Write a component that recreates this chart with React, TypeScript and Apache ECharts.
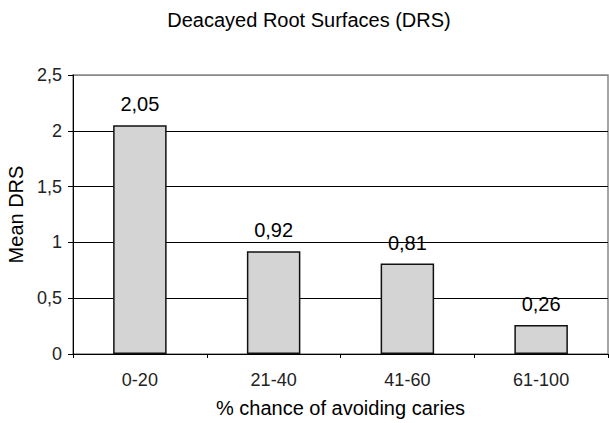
import React, { useEffect, useRef } from "react";
import * as echarts from "echarts";

const categories = ["0-20", "21-40", "41-60", "61-100"];
const meanDRS = [2.05, 0.92, 0.81, 0.26];
const yTicks = [0, 0.5, 1, 1.5, 2, 2.5];

const comma = (v: number, d?: number) =>
  (d !== undefined ? v.toFixed(d) : String(v)).replace(".", ",");

export default function App() {
  const ref = useRef<HTMLDivElement>(null);
  useEffect(() => {
    if (!ref.current) return;
    const chart = echarts.init(ref.current, undefined, { renderer: "svg" });
    const font = "'Liberation Sans', Arial, sans-serif";
    chart.setOption({
      animation: false,
      backgroundColor: "#fff",
      textStyle: { fontFamily: font },
      title: {
        text: "Deacayed Root Surfaces (DRS)",
        left: 304,
        textAlign: "center",
        top: 5,
        textStyle: { fontFamily: font, fontSize: 20, fontWeight: "normal", color: "#000" },
      },
      grid: {
        left: 73,
        right: 1,
        top: 75,
        bottom: 69,
        show: true,
        borderColor: "#888",
        borderWidth: 1.5,
        backgroundColor: "#fff",
        containLabel: false,
        outerBoundsMode: "none",
      },
      xAxis: {
        type: "category",
        data: categories,
        name: "% chance of avoiding caries",
        nameLocation: "middle",
        nameGap: 44,
        nameTextStyle: { fontFamily: font, fontSize: 20, color: "#000", verticalAlign: "top" },
        axisLine: { lineStyle: { color: "#000", width: 1 } },
        axisTick: { show: true, length: 4, lineStyle: { color: "#000" } },
        axisLabel: { fontFamily: font, fontSize: 18, color: "#222", margin: 17 },
      },
      yAxis: {
        type: "value",
        min: 0,
        max: 2.5,
        interval: 0.5,
        name: "Mean DRS",
        nameLocation: "middle",
        nameGap: 47,
        nameRotate: 90,
        nameTextStyle: { fontFamily: font, fontSize: 20, color: "#000" },
        axisLine: { show: true, lineStyle: { color: "#000", width: 1 } },
        axisTick: { show: true, length: 5, lineStyle: { color: "#000" } },
        axisLabel: {
          fontFamily: font,
          fontSize: 18,
          color: "#222",
          margin: 11,
          formatter: (v: number) => comma(v),
        },
        splitLine: {
          show: true,
          lineStyle: {
            color: yTicks.map((t, i) => (i === yTicks.length - 1 ? "#888" : "#000")),
            width: 1,
          },
        },
      },
      series: [
        {
          type: "bar",
          data: meanDRS,
          barWidth: "40%",
          itemStyle: { color: "#d4d4d4", borderColor: "#111", borderWidth: 1.5 },
          label: {
            show: true,
            position: "top",
            distance: 11,
            fontFamily: font,
            fontSize: 20,
            color: "#000",
            formatter: (p: any) => comma(p.value, 2),
          },
        },
      ],
    });
    return () => chart.dispose();
  }, []);
  return <div ref={ref} style={{ width: 609, height: 423, position: "absolute", left: 0, top: 0 }} />;
}
